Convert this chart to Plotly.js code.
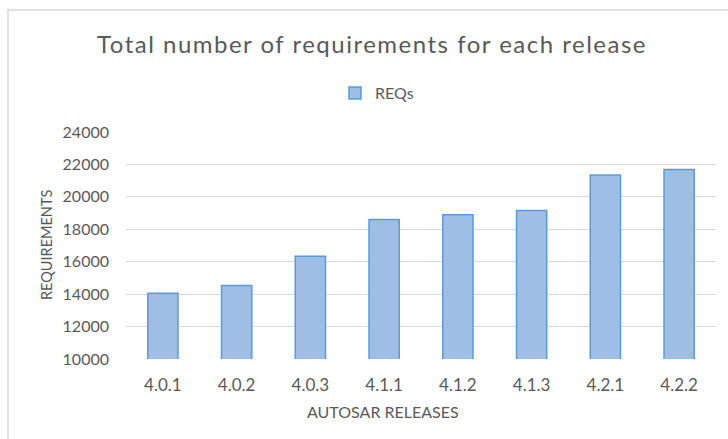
<!DOCTYPE html>
<html>
<head>
<meta charset="utf-8">
<script src="https://cdn.plot.ly/plotly-3.0.1.min.js"></script>
<style>html,body{margin:0;padding:0;background:#fff;}#chart{width:728px;height:439px;}
#chart .gtitle{letter-spacing:1.5px;}
</style>
</head>
<body>
<div id="chart"></div>
<script>
const releases = ["4.0.1", "4.0.2", "4.0.3", "4.1.1", "4.1.2", "4.1.3", "4.2.1", "4.2.2"];
const reqs = [14050, 14540, 16330, 18610, 18900, 19160, 21350, 21690];
const seriesName = "REQs";
const yTicks = [10000, 12000, 14000, 16000, 18000, 20000, 22000, 24000];

const font = "Lato, 'Open Sans', sans-serif";
const grey = "#595959";

const trace = {
  type: "bar",
  x: releases,
  y: reqs,
  name: seriesName,
  marker: {color: "#9fbee6", line: {color: "#5b9bd5", width: 1.5}},
  showlegend: true
};

const layout = {
  width: 728, height: 439,
  margin: {l: 126, r: 12, t: 132, b: 80},
  paper_bgcolor: "#fff", plot_bgcolor: "#fff",
  font: {family: font, color: grey},
  title: {text: "Total number of requirements for each release", font: {family: font, size: 24, color: grey},
          x: 372/728, xanchor: "center", xref: "container", y: 1 - 45/439, yanchor: "middle", yref: "container"},
  showlegend: true,
  legend: {orientation: "h", x: 377/728, xref: "container", xanchor: "center", y: 1 - 93/439, yref: "container", yanchor: "middle",
           font: {family: font, size: 16, color: grey}, itemwidth: 30},
  bargap: 0.59,
  xaxis: {type: "category", tickfont: {family: font, size: 17, color: grey}, showgrid: false, showline: false, ticks: "",
          zeroline: false, ticklabelstandoff: 14},
  yaxis: {range: [10000, 24000], tickvals: yTicks, ticktext: yTicks.map(String), tickfont: {family: font, size: 16, color: grey},
          showgrid: true, gridcolor: "#d9d9d9", gridwidth: 1, zeroline: false, showline: false, ticks: "",
          ticklabelstandoff: 16, automargin: false},
  annotations: [
    {text: "AUTOSAR RELEASES", xref: "paper", yref: "paper", x: (383-126)/590, y: -(411.5-359)/227, xanchor: "center", yanchor: "middle",
     showarrow: false, font: {family: font, size: 16, color: grey}},
    {text: "REQUIREMENTS", xref: "paper", yref: "paper", x: (46-126)/590, y: (359-245)/227, textangle: -90, xanchor: "center", yanchor: "middle",
     showarrow: false, font: {family: font, size: 14.5, color: grey}}
  ],
  shapes: [
    {type: "rect", xref: "paper", yref: "paper", x0: (8-126)/590, x1: (740-126)/590, y0: -0.5, y1: (359-10)/227,
     line: {color: "#d9d9d9", width: 1.5}, fillcolor: "rgba(0,0,0,0)", layer: "below"}
  ]
};

Plotly.newPlot("chart", [trace], layout, {staticPlot: true, displayModeBar: false});
</script>
</body>
</html>
